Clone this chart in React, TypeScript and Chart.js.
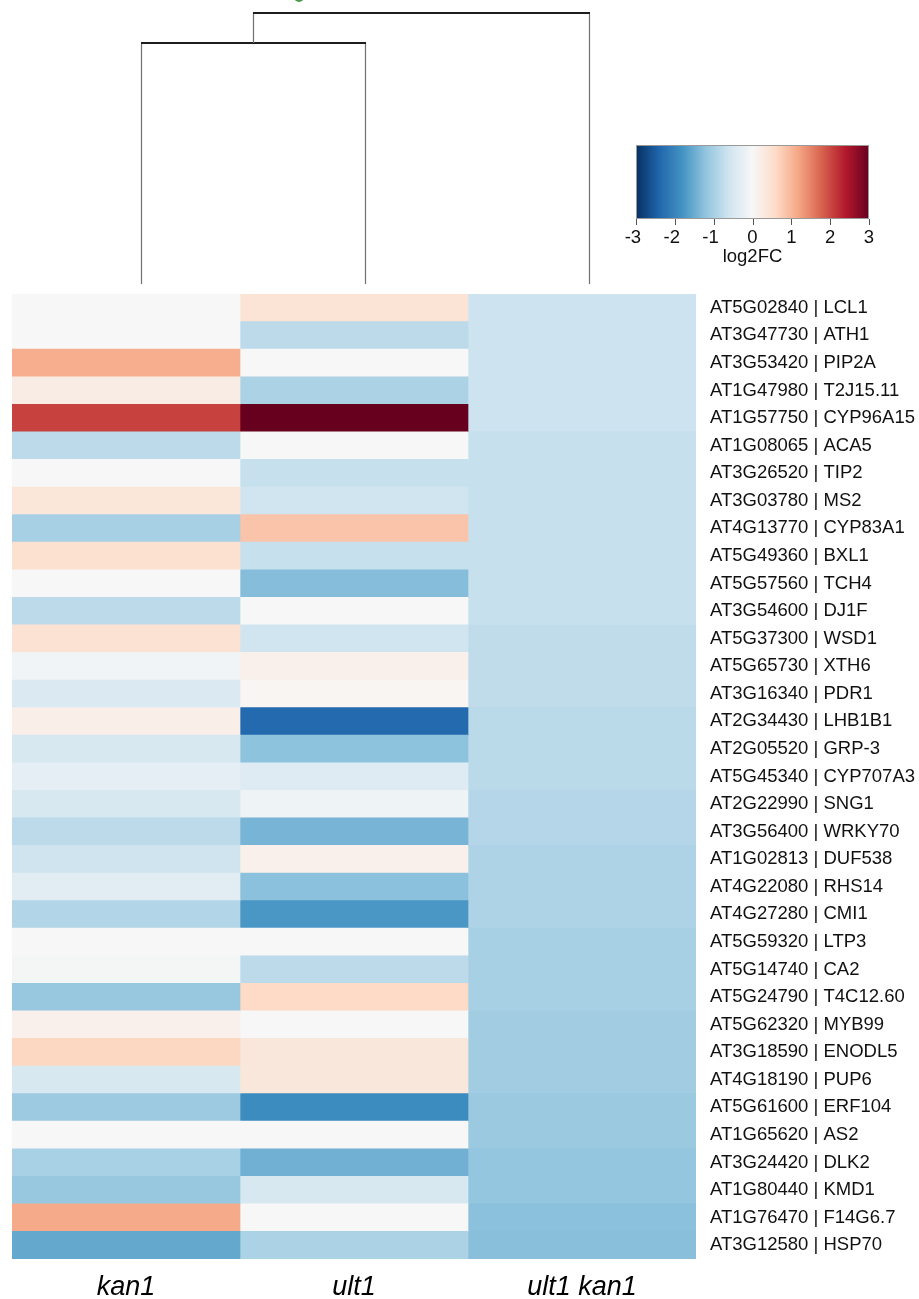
import React, { useEffect, useRef } from "react";
import { Chart, registerables } from "chart.js";

Chart.register(...registerables);

// ---------- data ----------
const genes = [
  "AT5G02840 | LCL1",
  "AT3G47730 | ATH1",
  "AT3G53420 | PIP2A",
  "AT1G47980 | T2J15.11",
  "AT1G57750 | CYP96A15",
  "AT1G08065 | ACA5",
  "AT3G26520 | TIP2",
  "AT3G03780 | MS2",
  "AT4G13770 | CYP83A1",
  "AT5G49360 | BXL1",
  "AT5G57560 | TCH4",
  "AT3G54600 | DJ1F",
  "AT5G37300 | WSD1",
  "AT5G65730 | XTH6",
  "AT3G16340 | PDR1",
  "AT2G34430 | LHB1B1",
  "AT2G05520 | GRP-3",
  "AT5G45340 | CYP707A3",
  "AT2G22990 | SNG1",
  "AT3G56400 | WRKY70",
  "AT1G02813 | DUF538",
  "AT4G22080 | RHS14",
  "AT4G27280 | CMI1",
  "AT5G59320 | LTP3",
  "AT5G14740 | CA2",
  "AT5G24790 | T4C12.60",
  "AT5G62320 | MYB99",
  "AT3G18590 | ENODL5",
  "AT4G18190 | PUP6",
  "AT5G61600 | ERF104",
  "AT1G65620 | AS2",
  "AT3G24420 | DLK2",
  "AT1G80440 | KMD1",
  "AT1G76470 | F14G6.7",
  "AT3G12580 | HSP70",
];

const conditions = ["kan1", "ult1", "ult1 kan1"];

const kan1Values = [
  0.0, 0.0, 1.1, 0.24, 2.05, -0.8, 0.0, 0.36, -1.0, 0.49, 0.0, -0.8,
  0.45, -0.1, -0.45, 0.19, -0.5, -0.3, -0.5, -0.8, -0.62, -0.35, -0.9,
  0.0, -0.05, -1.15, 0.15, 0.65, -0.5, -1.1, 0.0, -0.98, -1.15, 1.13, -1.55,
];

const ult1Values = [
  0.41, -0.8, 0.0, -0.95, 3.0, 0.0, -0.7, -0.6, 0.86, -0.7, -1.3, 0.0,
  -0.6, 0.15, 0.05, -2.35, -1.23, -0.4, -0.15, -1.4, 0.15, -1.25, -1.75,
  0.0, -0.8, 0.6, 0.0, 0.34, 0.34, -1.9, 0.0, -1.45, -0.5, 0.0, -0.95,
];

const ult1kan1Values = [
  -0.64, -0.64, -0.64, -0.64, -0.64, -0.7, -0.7, -0.7, -0.7, -0.7, -0.7, -0.7,
  -0.76, -0.76, -0.76, -0.82, -0.82, -0.82, -0.88, -0.88, -0.93, -0.93, -0.93,
  -1.0, -1.0, -1.0, -1.06, -1.06, -1.06, -1.12, -1.12, -1.18, -1.18, -1.25, -1.27,
];

const seriesValues = [kan1Values, ult1Values, ult1kan1Values];

const legendTicks = [-3, -2, -1, 0, 1, 2, 3];
const legendTitle = "log2FC";

// hclust-style merges (negative = leaf index+1), and merge heights
const dendroMerge = [
  [-1, -2],
  [1, -3],
];
const dendroHeights = [8.0, 9.0];

// ---------- colour scale (RdBu) ----------
const rdbu = [
  "#053061", "#2166ac", "#4393c3", "#92c5de", "#d1e5f0", "#f7f7f7",
  "#fddbc7", "#f4a582", "#d6604d", "#b2182b", "#67001f",
];
const hexToRgb = (h: string) => [
  parseInt(h.slice(1, 3), 16),
  parseInt(h.slice(3, 5), 16),
  parseInt(h.slice(5, 7), 16),
];
const colorFor = (v: number) => {
  const t = Math.max(0, Math.min(1, (v + 3) / 6)) * (rdbu.length - 1);
  const i = Math.min(rdbu.length - 2, Math.floor(t));
  const f = t - i;
  const a = hexToRgb(rdbu[i]);
  const b = hexToRgb(rdbu[i + 1]);
  const c = a.map((x, k) => Math.round(x + (b[k] - x) * f));
  return `rgb(${c[0]},${c[1]},${c[2]})`;
};

const FONT = "'Liberation Sans', Arial, Helvetica, sans-serif";

// ---------- plugins ----------
const dendrogramPlugin = {
  id: "dendrogram",
  afterDraw(chart: any) {
    const ctx = chart.ctx;
    const area = chart.chartArea;
    // dendrogram panel is slightly offset from the heatmap body
    const dLeft = area.left + 16.5;
    const dRight = area.right + 5;
    const n = conditions.length;
    const leafY = area.top - 10;
    const topY = 13;
    const maxH = Math.max(...dendroHeights);
    const yFor = (h: number) => leafY - (h / maxH) * (leafY - topY);
    const nodes: { x: number; y: number }[] = [];
    const pos = (id: number) => {
      if (id < 0) {
        return { x: dLeft + ((-id - 1 + 0.5) / n) * (dRight - dLeft), y: leafY };
      }
      return nodes[id - 1];
    };
    ctx.save();
    dendroMerge.forEach((m, i) => {
      const a = pos(m[0]);
      const b = pos(m[1]);
      const y = yFor(dendroHeights[i]);
      ctx.strokeStyle = "#707070";
      ctx.lineWidth = 1.2;
      ctx.beginPath();
      ctx.moveTo(Math.round(a.x) + 0.5, a.y);
      ctx.lineTo(Math.round(a.x) + 0.5, y);
      ctx.moveTo(Math.round(b.x) + 0.5, b.y);
      ctx.lineTo(Math.round(b.x) + 0.5, y);
      ctx.stroke();
      ctx.strokeStyle = "#1e1e1e";
      ctx.lineWidth = 2;
      ctx.beginPath();
      ctx.moveTo(Math.round(a.x), Math.round(y));
      ctx.lineTo(Math.round(b.x) + 1, Math.round(y));
      ctx.stroke();
      nodes.push({ x: (a.x + b.x) / 2, y });
    });
    // small cropped mark at top edge
    ctx.fillStyle = "#4a9a4a";
    ctx.beginPath();
    ctx.arc(299, -3, 5, 0, Math.PI * 2);
    ctx.fill();
    ctx.restore();
  },
};

const colorbarPlugin = {
  id: "colorbar",
  afterDraw(chart: any) {
    const ctx = chart.ctx;
    const x0 = 636;
    const x1 = 869;
    const y0 = 145;
    const y1 = 219;
    const minV = legendTicks[0];
    const maxV = legendTicks[legendTicks.length - 1];
    ctx.save();
    const g = ctx.createLinearGradient(x0, 0, x1, 0);
    for (let k = 0; k <= 60; k++) {
      const v = minV + ((maxV - minV) * k) / 60;
      g.addColorStop(k / 60, colorFor(v));
    }
    ctx.fillStyle = g;
    ctx.fillRect(x0, y0, x1 - x0, y1 - y0);
    ctx.strokeStyle = "#9a9a9a";
    ctx.lineWidth = 1;
    ctx.strokeRect(x0 + 0.5, y0 + 0.5, x1 - x0 - 1, y1 - y0 - 1);
    ctx.font = `18.5px ${FONT}`;
    ctx.fillStyle = "#111";
    ctx.textBaseline = "alphabetic";
    const digitW = ctx.measureText("0").width;
    legendTicks.forEach((t) => {
      const x = x0 + ((t - minV) / (maxV - minV)) * (x1 - x0);
      ctx.strokeStyle = "#555";
      ctx.beginPath();
      ctx.moveTo(Math.round(x) + 0.5, y1);
      ctx.lineTo(Math.round(x) + 0.5, y1 + 6);
      ctx.stroke();
      ctx.textAlign = "right";
      ctx.fillText(String(t), x + digitW / 2, 242.5);
    });
    ctx.textAlign = "center";
    ctx.fillText(legendTitle, (x0 + x1) / 2, 261.5);
    ctx.restore();
  },
};

export default function App() {
  const ref = useRef<HTMLCanvasElement | null>(null);

  useEffect(() => {
    if (!ref.current) return;
    const datasets = seriesValues.map((vals, i) => ({
      label: conditions[i],
      data: vals.map(() => [i, i + 1]),
      backgroundColor: vals.map(colorFor),
      borderWidth: 0,
      barPercentage: 1,
      categoryPercentage: 1,
      grouped: false,
    }));
    const chart = new Chart(ref.current, {
      type: "bar",
      data: { labels: genes, datasets: datasets as any },
      plugins: [dendrogramPlugin, colorbarPlugin],
      options: {
        indexAxis: "y",
        responsive: false,
        animation: false,
        layout: { padding: { top: 294, left: 12, right: 0, bottom: 0 } },
        plugins: {
          legend: { display: false },
          tooltip: { enabled: false },
        },
        scales: {
          x: {
            type: "linear",
            min: 0,
            max: 3,
            position: "bottom",
            grid: { display: false, drawTicks: false },
            border: { display: false },
            afterBuildTicks: (scale: any) => {
              scale.ticks = conditions.map((_, i) => ({ value: i + 0.5 }));
            },
            afterFit: (scale: any) => {
              scale.height = 40;
            },
            ticks: {
              autoSkip: false,
              maxRotation: 0,
              padding: 12,
              color: "#000",
              font: { family: FONT, size: 27, style: "italic" },
              callback: (v: any) => conditions[Math.floor(Number(v))],
            },
          },
          y: {
            type: "category",
            position: "right",
            grid: { display: false, drawTicks: false },
            border: { display: false },
            afterFit: (scale: any) => {
              scale.width = 223;
            },
            ticks: {
              autoSkip: false,
              padding: 14,
              color: "#111",
              font: { family: FONT, size: 18.5 },
            },
          },
        },
      } as any,
    });
    return () => chart.destroy();
  }, []);

  return (
    <div style={{ position: "fixed", left: 0, top: 0, width: 919, height: 1299, background: "#fff" }}>
      <canvas ref={ref} width={919} height={1299} style={{ display: "block" }} />
    </div>
  );
}
